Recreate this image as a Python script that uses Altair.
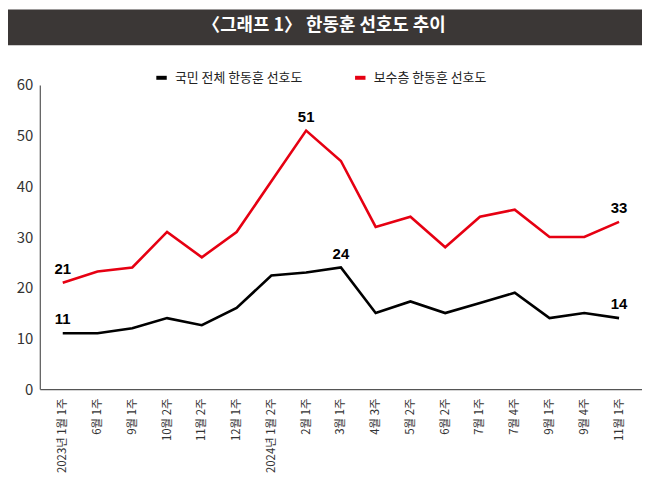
import json
import altair as alt
import pandas as pd

TITLE = "〈그래프 1〉 한동훈 선호도 추이"

categories = ["2023년 1월 1주", "6월 1주", "9월 1주", "10월 2주", "11월 2주", "12월 1주",
              "2024년 1월 2주", "2월 1주", "3월 1주", "4월 3주", "5월 2주", "6월 2주",
              "7월 1주", "7월 4주", "9월 1주", "9월 4주", "11월 1주"]

series_names = ["국민 전체 한동훈 선호도", "보수층 한동훈 선호도"]
series_colors = ["#000000", "#e60012"]

overall = [11, 11, 12, 14, 12.6, 16, 22.4, 23, 24, 15, 17.3, 15, 17, 19, 14, 15, 14]
conservative = [21, 23.2, 24, 31, 26, 31, 41, 51, 45, 32, 34, 28, 34, 35.4, 30, 30, 33]

overall_label_idx = [0, 8, 16]
conservative_label_idx = [0, 7, 16]

rows = []
for name, vals, lab in [(series_names[0], overall, overall_label_idx),
                        (series_names[1], conservative, conservative_label_idx)]:
    for i, v in enumerate(vals):
        rows.append({"series": name, "i": i, "value": v,
                     "label": f"{v:.0f}" if i in lab else ""})
df = pd.DataFrame(rows)
title_df = pd.DataFrame({"t": [TITLE]})

KFONT = "Noto Sans CJK KR"
NFONT = "Liberation Sans Narrow, Noto Sans CJK KR"

label_expr = json.dumps(categories, ensure_ascii=False) + "[datum.value]"

x_enc = alt.X("i:O", scale=alt.Scale(type="point", padding=0.66),
              axis=alt.Axis(title=None, labelAngle=-90, labelExpr=label_expr,
                            ticks=False, grid=False, domainColor="#555", domainWidth=1.2,
                            labelPadding=9, labelFontSize=11.5, labelColor="#333",
                            labelFont=NFONT))
y_enc = alt.Y("value:Q", scale=alt.Scale(domain=[0, 60], nice=False),
              axis=alt.Axis(title=None, values=[0, 10, 20, 30, 40, 50, 60],
                            ticks=False, grid=False, domainColor="#555", domainWidth=1.2,
                            labelPadding=7, labelFontSize=15, labelColor="#333",
                            labelFont=NFONT))

base = alt.Chart(df)

lines = base.mark_line(strokeWidth=2.6).encode(
    x=x_enc, y=y_enc,
    color=alt.Color("series:N",
                    scale=alt.Scale(domain=series_names, range=series_colors),
                    legend=alt.Legend(title=None, orient="none", legendX=115, legendY=-15,
                                      direction="horizontal", symbolType="stroke",
                                      symbolStrokeWidth=4, symbolSize=110,
                                      labelFontSize=13, labelFont=KFONT, labelColor="#222",
                                      columnPadding=44, labelOffset=6)),
)

labels = base.transform_filter("datum.label != ''").mark_text(
    dy=-14, fontSize=15, fontWeight="bold", font="Liberation Sans", color="#000"
).encode(x="i:O", y="value:Q", text="label:N")

title_bar = alt.Chart(title_df).mark_rect(color="#3b3736").encode(
    x=alt.value(-32), x2=alt.value(606), y=alt.value(-76), y2=alt.value(-40))

title_text = alt.Chart(title_df).mark_text(
    color="#ffffff", fontSize=18, fontWeight="bold", font=KFONT
).encode(x=alt.value(286), y=alt.value(-59), text="t:N")

chart = alt.layer(title_bar, title_text, lines, labels).properties(
    width=606, height=306, autosize="none",
    padding={"left": 32, "top": 76, "right": 0, "bottom": 88},
    background="#ffffff",
).configure_view(stroke=None)

chart.save("out.html", embed_options={"renderer": "svg", "actions": False})
